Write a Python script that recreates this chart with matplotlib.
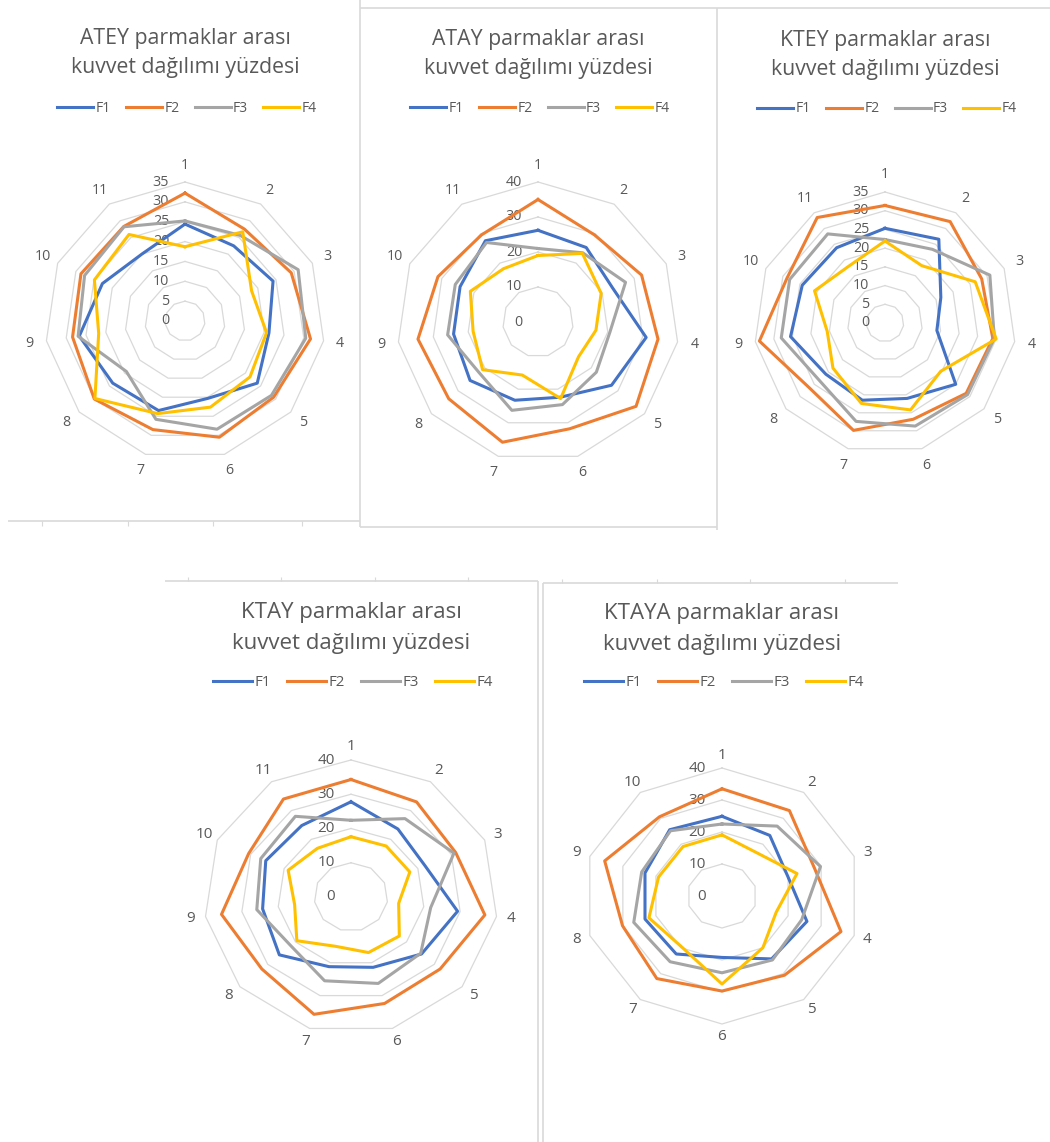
import numpy as np
import matplotlib
matplotlib.use("Agg")
import matplotlib.pyplot as plt
from matplotlib.lines import Line2D

plt.rcParams['font.family'] = ['Open Sans', 'DejaVu Sans']

W, H = 1050, 1142

# ---- data: percentage of force per finger at each measurement point ----
series_names = ["F1", "F2", "F3", "F4"]

cats_11 = ["1", "2", "3", "4", "5", "6", "7", "8", "9", "10", "11"]
cats_10 = ["1", "2", "3", "4", "5", "6", "7", "8", "9", "10"]

atey_f1 = [24.4, 22.5, 24.2, 21.2, 23.9, 20.3, 23.5, 23.9, 26.7, 22.7, 20.0]
atey_f2 = [32.2, 27.5, 29.2, 31.7, 29.3, 30.5, 28.5, 30.0, 28.4, 28.6, 28.3]
atey_f3 = [25.2, 25.6, 31.1, 30.5, 28.6, 28.4, 25.8, 19.4, 27.0, 27.6, 28.2]
atey_f4 = [18.7, 26.7, 18.3, 20.6, 21.5, 22.6, 24.3, 29.8, 21.8, 24.9, 25.9]

atay_f1 = [26.2, 25.3, 23.3, 31.0, 27.6, 22.4, 23.3, 25.5, 24.2, 24.3, 27.6]
atay_f2 = [35.0, 29.6, 32.3, 34.4, 36.8, 31.8, 35.8, 33.5, 34.4, 31.2, 29.6]
atay_f3 = [21.0, 23.5, 27.3, 20.6, 21.9, 24.6, 26.3, 22.1, 25.9, 25.8, 27.0]
atay_f4 = [19.0, 23.3, 19.7, 16.6, 15.2, 22.8, 15.8, 20.8, 18.6, 21.1, 18.1]

ktey_f1 = [25.3, 26.6, 16.4, 14.0, 25.0, 21.0, 21.5, 20.9, 25.5, 24.3, 23.9]
ktey_f2 = [31.4, 32.2, 28.4, 29.1, 28.7, 26.8, 29.9, 26.6, 33.9, 28.8, 33.5]
ktey_f3 = [22.3, 23.4, 30.8, 29.5, 29.2, 28.7, 27.4, 23.3, 28.0, 28.0, 28.3]
ktey_f4 = [21.9, 18.2, 26.5, 30.0, 19.7, 24.2, 22.4, 18.4, 15.6, 20.7, 18.0]

ktay_f1 = [27.8, 23.6, 22.1, 29.3, 25.4, 21.4, 21.2, 25.8, 24.3, 25.5, 24.8]
ktay_f2 = [34.3, 33.0, 31.3, 36.8, 32.1, 32.4, 35.7, 32.1, 35.6, 30.6, 34.0]
ktay_f3 = [22.4, 27.2, 30.8, 21.9, 25.1, 26.3, 25.5, 21.7, 25.9, 27.0, 28.0]
ktay_f4 = [17.6, 17.7, 17.6, 13.1, 17.4, 16.9, 15.0, 19.5, 15.5, 18.8, 16.9]

ktaya_f1 = [24.9, 23.4, 19.9, 25.7, 24.3, 19.2, 22.4, 23.3, 23.3, 25.6]
ktaya_f2 = [33.5, 33.0, 28.0, 36.0, 30.6, 29.7, 31.9, 30.1, 35.5, 30.6]
ktaya_f3 = [22.5, 27.0, 29.8, 24.1, 24.7, 24.0, 25.4, 26.7, 24.3, 25.2]
ktaya_f4 = [19.1, 16.8, 22.7, 16.4, 20.0, 27.5, 19.7, 22.1, 19.2, 19.1]

ticks_35 = [0, 5, 10, 15, 20, 25, 30, 35]
ticks_40 = [0, 10, 20, 30, 40]

colors = ["#4472C4", "#ED7D31", "#A5A5A5", "#FFC000"]
text_gray = "#595959"
grid_gray = "#D9D9D9"
border_gray = "#D9D9D9"

# panel layout in pixels: chart centre, outer radii (horizontal, vertical),
# title/legend positions and text sizes
panels = [
    dict(name="ATEY", cats=cats_11, data=[atey_f1, atey_f2, atey_f3, atey_f4], ticks=ticks_35,
         cx=185, cy=321, Rx=140, Ry=139, ty=38, ly=108, tsize=15.3, lsize=10, csize=10.3,
         lab_k=1.12, lspace=1.55),
    dict(name="ATAY", cats=cats_11, data=[atay_f1, atay_f2, atay_f3, atay_f4], ticks=ticks_40,
         cx=538, cy=322, Rx=141, Ry=140, ty=39, ly=108, tsize=15.3, lsize=10, csize=10.3,
         lab_k=1.12, lspace=1.55),
    dict(name="KTEY", cats=cats_11, data=[ktey_f1, ktey_f2, ktey_f3, ktey_f4], ticks=ticks_35,
         cx=885, cy=323, Rx=131, Ry=131, ty=40, ly=109, tsize=15.3, lsize=10, csize=10.3,
         lab_k=1.13, lspace=1.55),
    dict(name="KTAY", cats=cats_11, data=[ktay_f1, ktay_f2, ktay_f3, ktay_f4], ticks=ticks_40,
         cx=351, cy=897, Rx=147, Ry=137, ty=613, ly=683, tsize=16, lsize=10.8, csize=11,
         lab_k=1.1, lspace=1.6),
    dict(name="KTAYA", cats=cats_10, data=[ktaya_f1, ktaya_f2, ktaya_f3, ktaya_f4], ticks=ticks_40,
         cx=722, cy=896, Rx=139, Ry=128, ty=614, ly=683, tsize=16, lsize=10.8, csize=11,
         lab_k=1.1, lspace=1.6),
]

fig = plt.figure(figsize=(W / 100, H / 100), dpi=100)
fig.patch.set_facecolor("white")


def fx(x):
    return x / W


def fy(y):
    return 1 - y / H


def fig_line(x0, y0, x1, y1, lw=1.2, color=border_gray):
    fig.add_artist(Line2D([fx(x0), fx(x1)], [fy(y0), fy(y1)], transform=fig.transFigure,
                          color=color, lw=lw, solid_capstyle="butt"))


# sheet borders around the chart boxes
fig_line(8, 521, 360, 521)
fig_line(360, 0, 360, 527)
fig_line(360, 527, 717, 527)
fig_line(360, 8, 1050, 8)
fig_line(717, 8, 717, 530)
fig_line(165, 581, 538, 581)
fig_line(538, 581, 538, 1142)
fig_line(543, 583, 898, 583)
fig_line(543, 583, 543, 1142)
for x in [42, 128, 213, 302]:
    fig_line(x, 521, x, 526, lw=0.8)
for x in [188, 281, 375, 468]:
    fig_line(x, 577, x, 581, lw=0.8)
for x in [562, 657, 750, 845]:
    fig_line(x, 579, x, 583, lw=0.8)

for p in panels:
    cx, cy, Rx, Ry = p["cx"], p["cy"], p["Rx"], p["Ry"]
    ax = fig.add_axes([fx(cx - Rx), fy(cy + Ry), 2 * Rx / W, 2 * Ry / H], projection="polar")
    ax.set_aspect("auto")
    ax.set_theta_zero_location("N")
    ax.set_theta_direction(-1)
    rmax = p["ticks"][-1]
    ax.set_ylim(0, rmax)
    ax.grid(False)
    ax.set_xticks([])
    ax.set_yticks([])
    ax.spines["polar"].set_visible(False)
    ax.patch.set_alpha(0)

    n = len(p["cats"])
    theta = np.linspace(0, 2 * np.pi, n, endpoint=False)
    theta_c = np.append(theta, theta[0])

    # polygonal grid rings
    for lvl in p["ticks"][1:]:
        ax.plot(theta_c, [lvl] * (n + 1), color=grid_gray, lw=0.9, zorder=1, clip_on=False)

    # radial value labels along the first spoke
    for lvl in p["ticks"]:
        ax.annotate(str(lvl), xy=(0, lvl), xycoords="data", xytext=(-11.5, 0),
                    textcoords="offset points", ha="right", va="center",
                    fontsize=p["csize"], color=text_gray, zorder=2, annotation_clip=False)

    # category labels outside the outer ring
    for t, lab in zip(theta, p["cats"]):
        ax.text(t, rmax * p["lab_k"], lab, ha="center", va="center",
                fontsize=p["csize"], color=text_gray)

    # series
    handles = []
    for vals, c, nm in zip(p["data"], colors, series_names):
        v = np.append(vals, vals[0])
        h, = ax.plot(theta_c, v, color=c, lw=2.2, zorder=3, clip_on=False,
                     solid_joinstyle="round", label=nm)
        handles.append(h)

    fig.text(fx(cx), fy(p["ty"] + 15), p["name"] + " parmaklar arası\nkuvvet dağılımı yüzdesi",
             ha="center", va="center", fontsize=p["tsize"], color=text_gray,
             linespacing=p["lspace"])

    fig.legend(handles=handles, loc="center", bbox_to_anchor=(fx(cx + 2), fy(p["ly"])),
               bbox_transform=fig.transFigure, ncol=4, frameon=False,
               fontsize=p["lsize"], labelcolor=text_gray, handlelength=2.6,
               handletextpad=0.15, columnspacing=1.1, borderpad=0)

fig.savefig("out.png", dpi=100, facecolor="white")
